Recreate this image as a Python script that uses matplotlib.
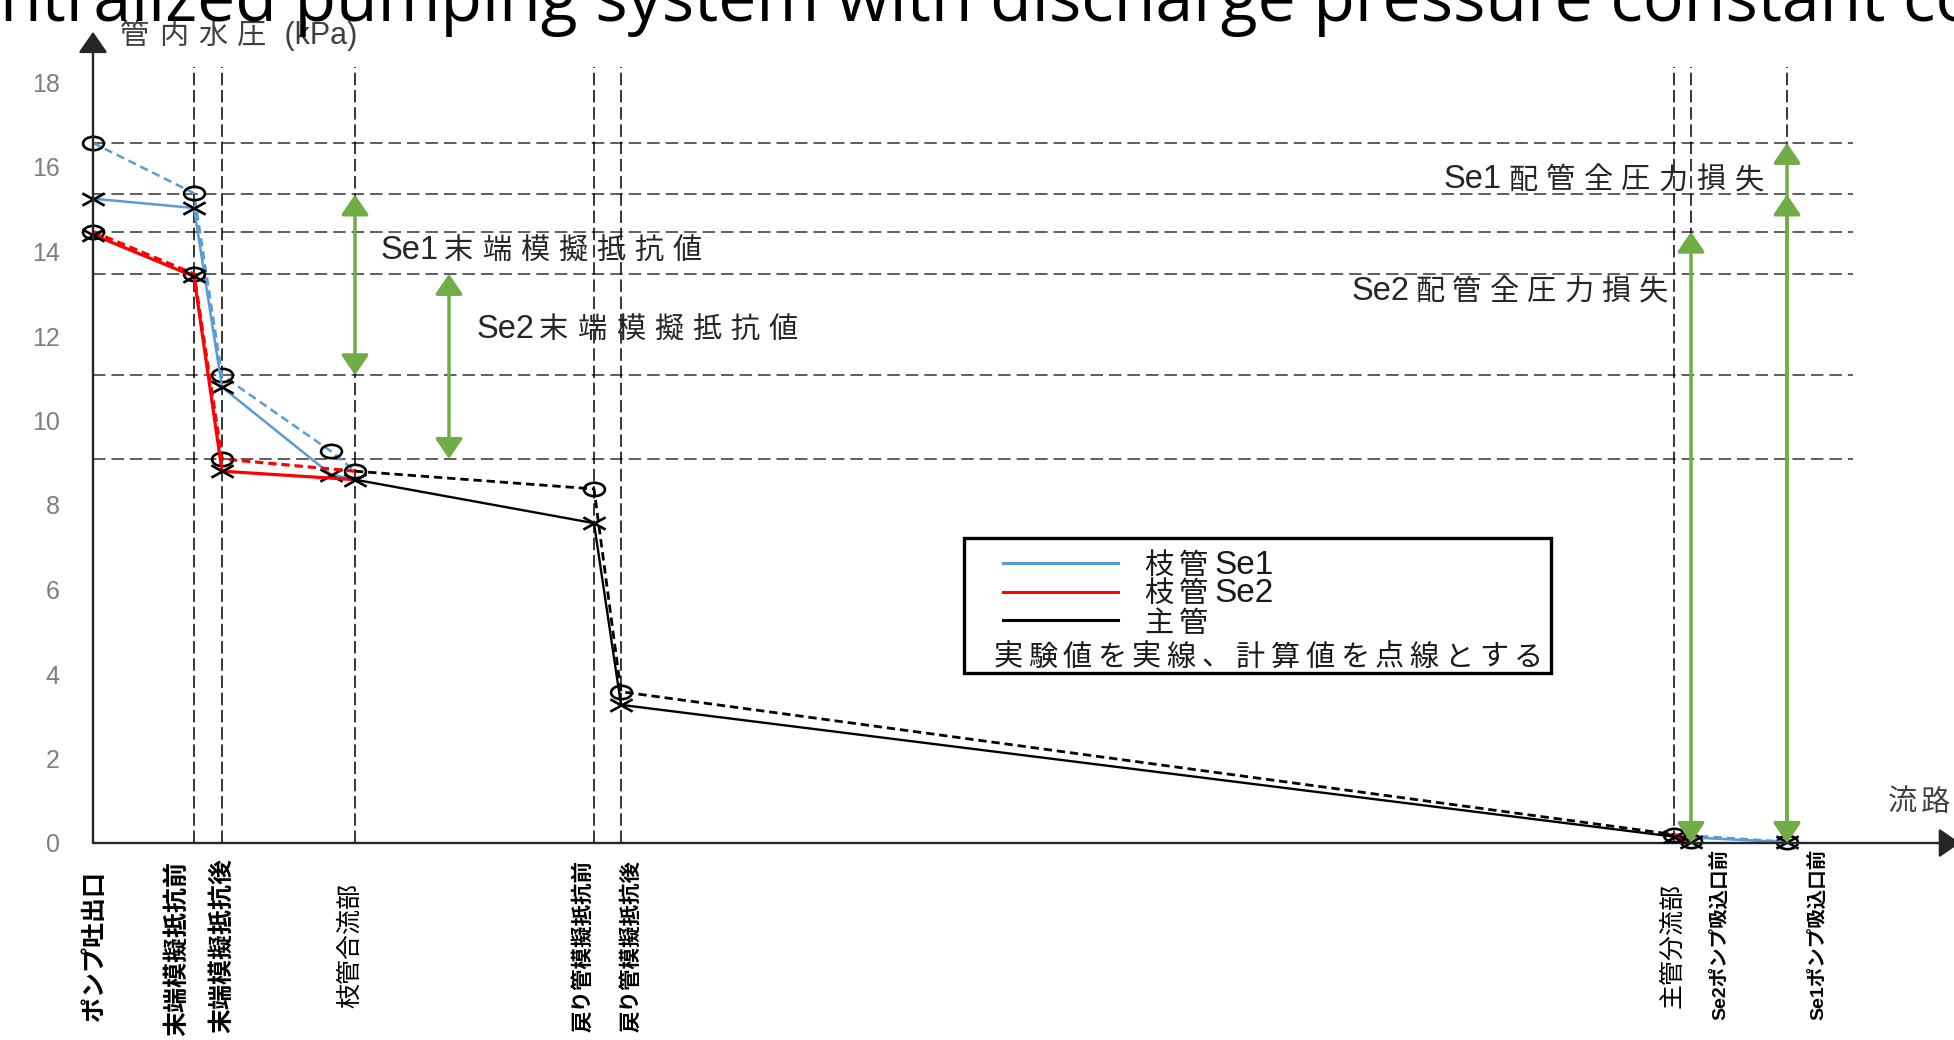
import re
import numpy as np
import matplotlib
matplotlib.use('Agg')
import matplotlib.pyplot as plt
from matplotlib.path import Path
from matplotlib.patches import Rectangle
from matplotlib.lines import Line2D
from matplotlib.transforms import ScaledTranslation
from matplotlib.font_manager import FontProperties

plt.rcParams['font.family'] = ['Liberation Sans', 'Noto Sans CJK JP']
plt.rcParams['lines.scale_dashes'] = False

# flow-path stations (x) and their labels
station_x = [0, 101, 129, 262, 501, 528, 1581, 1598, 1694]
station_labels = ['ポンプ吐出口', '末端模擬抵抗前', '末端模擬抵抗後', '枝管合流部',
                  '戻り管模擬抵抗前', '戻り管模擬抵抗後', '主管分流部',
                  'Se2ポンプ吸込口前', 'Se1ポンプ吸込口前']

# branch Se1, pump outlet -> confluence
se1_x = [0, 101, 129, 238, 262]
se1_calc = [16.57, 15.38, 11.07, 9.27, 8.80]
se1_exp = [15.25, 15.03, 10.79, 8.72, 8.60]

# branch Se2, pump outlet -> confluence
se2_x = [0, 101, 129, 262]
se2_calc = [14.47, 13.47, 9.09, 8.80]
se2_exp = [14.40, 13.41, 8.80, 8.60]

# main pipe, confluence -> split
main_x = [262, 501, 528, 1581]
main_calc = [8.80, 8.38, 3.58, 0.20]
main_exp = [8.60, 7.57, 3.27, 0.15]

# after the split, back to each pump suction
se2_out_x = [1581, 1598]
se2_out_calc = [0.20, 0.05]
se2_out_exp = [0.15, 0.03]
se1_out_x = [1581, 1694]
se1_out_calc = [0.20, 0.03]
se1_out_exp = [0.15, 0.02]

# reference pressure levels (kPa)
levels = [se1_calc[0], 15.35, se2_calc[0], se2_calc[1], se1_calc[2], se2_calc[2]]

W, H, DPI = 1954, 1040, 100
PX_PER_KPA = 42.25

BLUE = '#5B9BD5'
RED = '#FF0000'
GREEN = '#70AD47'

fig = plt.figure(figsize=(W / DPI, H / DPI), dpi=DPI)
ax = fig.add_axes([93 / W, (H - 843) / H, (W - 93) / W, 808 / H])
ax.set_xlim(0, W - 93)
ax.set_ylim(0, 808 / PX_PER_KPA)
for s in ax.spines.values():
    s.set_visible(False)
ax.patch.set_alpha(0)
renderer = fig.canvas.get_renderer()

# flattened marker shapes
circ = Path.unit_circle()
ring = Path(circ.vertices * [1.0, 0.64], circ.codes)
cross = Path([(-1, -0.55), (1, 0.55), (-1, 0.55), (1, -0.55)],
             [Path.MOVETO, Path.LINETO, Path.MOVETO, Path.LINETO])
mk = dict(mec='k', mfc='none', mew=1.9)


def spaced(x, y, s, size, step, latin_size, gap=0, xycoords='data', color='#262626'):
    # kana/kanji one glyph at a time on a wide pitch, latin runs kept whole
    dx = 0.0
    dy = -0.37 * size * DPI / 72
    for run in re.findall(r'[ -~]+|[^ -~]', s):
        latin = run.isascii()
        fs = latin_size if latin else size
        ax.annotate(run, (x, y), xycoords=xycoords, xytext=(dx, dy),
                    textcoords='offset pixels', fontsize=fs, color=color,
                    ha='left', va='baseline', annotation_clip=False)
        if latin:
            w, _, _ = renderer.get_text_width_height_descent(
                run, FontProperties(family='Liberation Sans', size=fs), ismath=False)
            dx += w + gap
        else:
            dx += step


# dashed reference grid
ax.hlines(levels, 0, 1760, colors='#333333', lw=1.1, linestyles=(0, (9, 4.3)), zorder=1)
ax.vlines(station_x[1:], 0, 18.36, colors='k', lw=1.1, linestyles=(0, (9, 3.4)), zorder=1)

dash = (0, (6, 3.5))

# branches upstream of the confluence
ax.plot(se1_x, se1_calc, color=BLUE, lw=1.8, ls=dash, marker=ring, ms=15,
        markevery=[0, 1, 2, 3], zorder=3, clip_on=False, **mk)
ax.plot(se1_x, se1_exp, color=BLUE, lw=1.8, marker=cross, ms=16,
        markevery=[0, 1, 2, 3], zorder=3, clip_on=False, **mk)
ax.plot(se2_x, se2_calc, color=RED, lw=2.3, ls=dash, marker=ring, ms=15,
        markevery=[0, 1, 2], zorder=3, clip_on=False, **mk)
ax.plot(se2_x, se2_exp, color=RED, lw=2.3, marker=cross, ms=16,
        markevery=[0, 1, 2], zorder=3, clip_on=False, **mk)

# main pipe
ax.plot(main_x, main_calc, color='k', lw=2.0, ls=dash, marker=ring, ms=15, zorder=4, **mk)
ax.plot(main_x, main_exp, color='k', lw=1.7, marker=cross, ms=16, zorder=4, **mk)

# branches downstream of the split
ax.plot(se1_out_x, se1_out_calc, color=BLUE, lw=1.8, ls=dash, marker=ring, ms=15,
        markevery=[1], zorder=3, clip_on=False, **mk)
ax.plot(se1_out_x, se1_out_exp, color=BLUE, lw=1.8, marker=cross, ms=16,
        markevery=[1], zorder=3, clip_on=False, **mk)
ax.plot(se2_out_x, se2_out_calc, color=RED, lw=2.3, ls=dash, marker=ring, ms=15,
        markevery=[1], zorder=3, clip_on=False, **mk)
ax.plot(se2_out_x, se2_out_exp, color=RED, lw=2.3, marker=cross, ms=16,
        markevery=[1], zorder=3, clip_on=False, **mk)

# green double arrows
green_arrow = dict(arrowstyle='<|-|>,head_length=0.62,head_width=0.42', mutation_scale=20,
                   color=GREEN, lw=2.5, shrinkA=0, shrinkB=0)
for x, lo, hi in [(station_x[3], se1_calc[2], levels[1]),
                  (356, se2_calc[2], se2_calc[1]),
                  (station_x[7], 0, se2_calc[0]),
                  (station_x[8], 0, se1_calc[0]),
                  (station_x[8], 0, levels[1])]:
    ax.annotate('', xy=(x, hi), xytext=(x, lo), arrowprops=green_arrow,
                annotation_clip=False, zorder=6)

spaced(288, 14.08, 'Se1末端模擬抵抗値', 21, 38, 23.5, gap=5)
spaced(384, 12.20, 'Se2末端模擬抵抗値', 21, 38.3, 23.5, gap=4)
spaced(1351, 15.75, 'Se1配管全圧力損失', 21, 37.7, 23.5, gap=6)
spaced(1259, 13.11, 'Se2配管全圧力損失', 21, 37.3, 23.5, gap=5)

# axes drawn as arrows
axis_arrow = dict(arrowstyle='-|>,head_length=0.65,head_width=0.45', mutation_scale=20,
                  color='#262626', lw=1.7, shrinkA=0, shrinkB=0)
ax.annotate('', xy=(0, 19.2), xytext=(0, 0), arrowprops=axis_arrow, annotation_clip=False)
ax.annotate('', xy=(W - 93 + 6, 0), xytext=(0, 0), arrowprops=axis_arrow, annotation_clip=False)

spaced(120, H - 33, '管内水圧 (kPa)', 21, 39, 22, xycoords='figure pixels', color='#404040')
spaced(1888, H - 800, '流路', 21, 33, 22, xycoords='figure pixels', color='#404040')

# y ticks
ax.set_yticks(range(0, 19, 2))
ax.tick_params(axis='y', length=0, pad=24, labelsize=18, labelcolor='#7f7f7f')

# station labels along the flow path
label_dx = [2, -17, 0, -5, -10, 11, -2, 29, 31]
label_dy = [0, -3, 0, 0, 0, 0, 0, 11, 11]
label_size = [18, 18, 18, 18, 15.5, 15.5, 18, 14, 14]
label_weight = ['bold', 'bold', 'bold', 'normal', 'bold', 'bold', 'normal', 'bold', 'bold']
ax.set_xticks(station_x, station_labels)
ax.tick_params(axis='x', length=0, pad=74)
for lbl, dx, dy, fs, fw in zip(ax.get_xticklabels(), label_dx, label_dy, label_size, label_weight):
    lbl.set(rotation=90, va='center', ha='center', fontsize=fs, fontweight=fw, color='k')
    lbl.set_transform(lbl.get_transform()
                      + ScaledTranslation(dx / DPI, dy / DPI, fig.dpi_scale_trans))

# legend box
fig.add_artist(Rectangle((964 / W, (H - 673) / H), 587 / W, 135 / H,
                         transform=fig.transFigure, fill=False, lw=2.4, ec='k'))
for color, py in [(BLUE, 563), (RED, 592), ('k', 620)]:
    fig.add_artist(Line2D([1003 / W, 1118 / W], [(H - py) / H] * 2,
                          transform=fig.transFigure, color=color, lw=2.2))
spaced(1144, H - 563, '枝管Se1', 21, 35, 24, xycoords='figure pixels', color='#1a1a1a')
spaced(1144, H - 591, '枝管Se2', 21, 35, 24, xycoords='figure pixels', color='#1a1a1a')
spaced(1144, H - 621, '主管', 21, 35, 24, xycoords='figure pixels', color='#1a1a1a')
spaced(993, H - 655, '実験値を実線、計算値を点線とする', 21, 34.7, 24,
       xycoords='figure pixels', color='#1a1a1a')

# slide title, running off the top of the canvas
title = 'Centralized pumping system with discharge pressure constant control'
fp = FontProperties(family='Open Sans', size=49)
lead_w, _, _ = renderer.get_text_width_height_descent('Ce', fp, ismath=False)
fig.text(-lead_w / W, 1 - 21 / H, title, fontproperties=fp, va='baseline', ha='left')

fig.savefig('out.png', dpi=DPI, facecolor='white')
